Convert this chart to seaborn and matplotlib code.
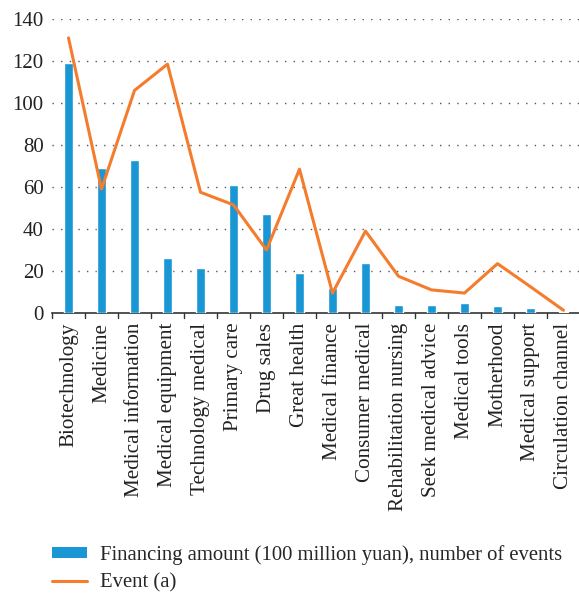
import matplotlib
matplotlib.use("Agg")
import matplotlib.pyplot as plt
import seaborn as sns
import pandas as pd
from matplotlib.patches import Patch
from matplotlib.lines import Line2D

categories = [
    "Biotechnology", "Medicine", "Medical information", "Medical equipment",
    "Technology medical", "Primary care", "Drug sales", "Great health",
    "Medical finance", "Consumer medical", "Rehabilitation nursing",
    "Seek medical advice", "Medical tools", "Motherhood", "Medical support",
    "Circulation channel",
]
financing = [119, 69, 73, 26, 21.5, 61, 47, 19, 12, 24, 4, 3.7, 5, 3.2, 2.2, 0.6]
events = [131, 59, 106, 118.5, 57.5, 51.5, 30, 68.5, 9.5, 39, 17.5, 11, 9.5, 23.5, 12.5, 1.3]
yticks = [0, 20, 40, 60, 80, 100, 120, 140]

bar_label = "Financing amount (100 million yuan), number of events"
line_label = "Event (a)"

BLUE = "#1996d4"
ORANGE = "#f47c2c"

sns.set_theme(style="white")
plt.rcParams["font.family"] = ["Liberation Serif", "DejaVu Serif"]

df = pd.DataFrame({"category": categories, "financing": financing, "events": events})

fig = plt.figure(figsize=(5.79, 5.95), dpi=100)
ax = fig.add_axes([52 / 579, 1 - 313 / 595, 528 / 579, (313 - 19) / 595])

sns.barplot(data=df, x="category", y="financing", color=BLUE, width=0.28,
            saturation=1, ax=ax, zorder=3)
sns.lineplot(x=list(range(len(categories))), y=events, color=ORANGE,
             linewidth=2.2, ax=ax, zorder=4)

ax.set_xlim(-0.5, len(categories) - 0.5)
ax.set_ylim(0, 140)
ax.set_yticks(yticks)
ax.set_yticklabels([str(v) for v in yticks], fontsize=15)
ax.set_xticks(range(len(categories)))
ax.set_xticklabels(categories, rotation=90, fontsize=15.2, color="#222222")
ax.tick_params(axis="x", length=0, pad=7)
ax.tick_params(axis="y", length=0, pad=6, colors="#222222")
ax.set_xlabel("")
ax.set_ylabel("")

# boundary ticks between categories
for b in range(len(categories) + 1):
    ax.plot([b - 0.5, b - 0.5], [0, -0.017], transform=ax.get_xaxis_transform(),
            color="#333333", linewidth=1.0, clip_on=False, zorder=5)

# dotted horizontal grid
for v in yticks[1:]:
    ax.axhline(v, color="#555555", linewidth=1.0, linestyle=(0, (1, 5.2)), zorder=1)

for side in ["top", "right", "left"]:
    ax.spines[side].set_visible(False)
ax.spines["bottom"].set_color("#333333")
ax.spines["bottom"].set_linewidth(1.2)

handles = [
    Patch(facecolor=BLUE, edgecolor="none"),
    Line2D([0], [0], color=ORANGE, linewidth=2.2),
]
fig.legend(handles, [bar_label, line_label], loc="upper left",
           bbox_to_anchor=(52 / 579, 1 - 545 / 595), frameon=False,
           fontsize=14.9, handlelength=1.7, handleheight=0.4, handletextpad=0.6,
           labelspacing=0.38, borderaxespad=0, borderpad=0)

fig.savefig("out.png", dpi=100)
